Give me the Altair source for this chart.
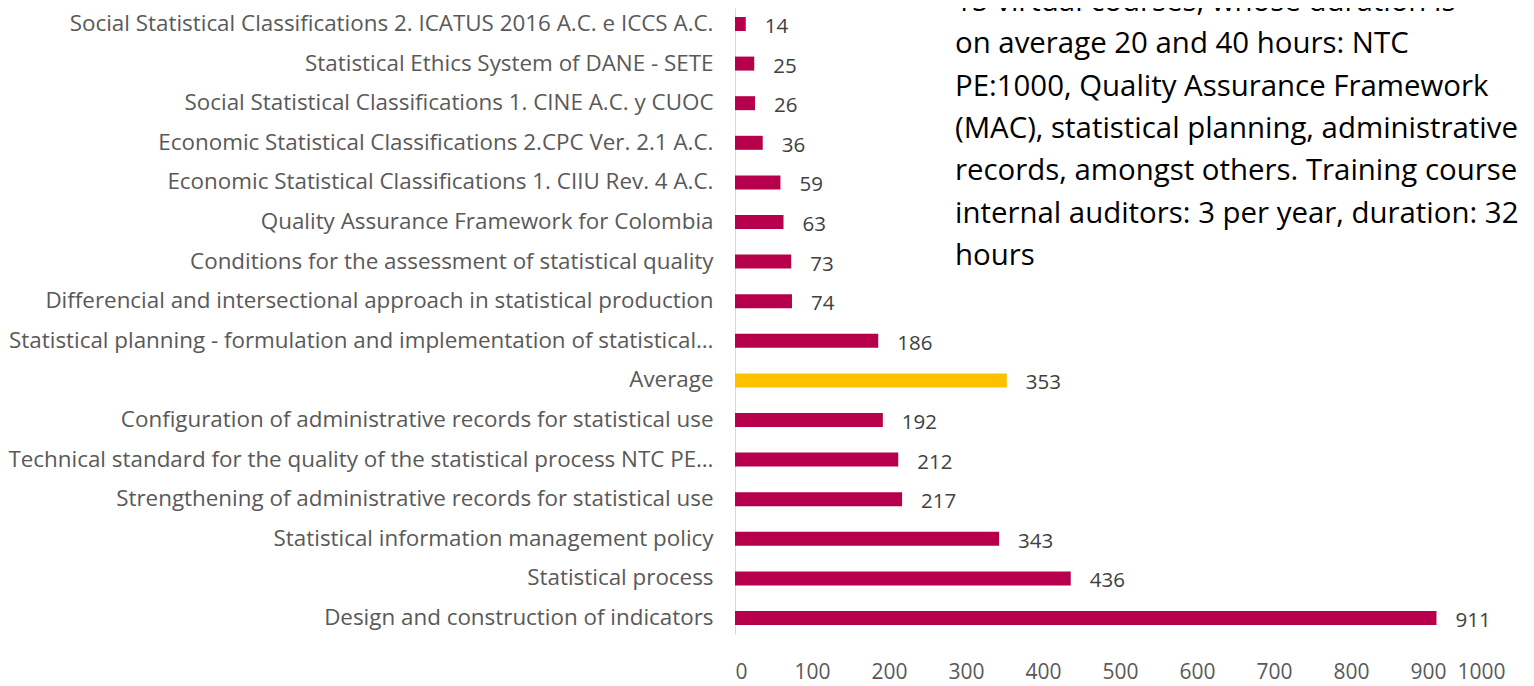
import altair as alt
import pandas as pd

categories = [
    "Social Statistical Classifications 2. ICATUS 2016 A.C. e  ICCS A.C.",
    "Statistical Ethics System of DANE - SETE",
    "Social Statistical Classifications 1.  CINE A.C. y CUOC",
    "Economic Statistical Classifications 2.CPC Ver. 2.1 A.C.",
    "Economic Statistical Classifications 1.  CIIU Rev. 4 A.C.",
    "Quality Assurance Framework for Colombia",
    "Conditions for the assessment of statistical quality",
    "Differencial and intersectional approach in statistical production\u00a0\u00a0",
    "Statistical planning - formulation and implementation of statistical\u2026",
    "Average",
    "Configuration of administrative records for statistical use",
    "Technical standard for the quality of the statistical process NTC PE\u2026",
    "Strengthening of administrative records for statistical use",
    "Statistical information management policy",
    "Statistical process",
    "Design and construction of indicators",
]
values = [14, 25, 26, 36, 59, 63, 73, 74, 186, 353, 192, 212, 217, 343, 436, 911]
kinds = ["course"] * 9 + ["average"] + ["course"] * 6
x_ticks = [0, 100, 200, 300, 400, 500, 600, 700, 800, 900, 1000]

note_lines = [
    "15 virtual courses, whose duration is",
    "on average 20 and 40 hours: NTC",
    "PE:1000, Quality Assurance Framework",
    "(MAC), statistical planning, administrative",
    "records, amongst others. Training course",
    "internal auditors: 3 per year, duration: 32",
    "hours",
]

df = pd.DataFrame({"cat": categories, "value": values, "kind": kinds})

FONT = "Open Sans"

y_enc = alt.Y(
    "cat:N",
    sort=categories,
    scale=alt.Scale(paddingInner=0.6465, paddingOuter=0.227),
    axis=alt.Axis(
        title=None,
        labelFontSize=22.4,
        labelColor="#595959",
        labelFont=FONT,
        labelPadding=22,
        labelLimit=1000,
        ticks=False,
        tickSize=0,
        domainColor="#D9D9D9",
        domainWidth=1,
        grid=False,
    ),
)

x_enc = alt.X(
    "value:Q",
    scale=alt.Scale(domain=[0, 1000], nice=False),
    axis=alt.Axis(
        title=None,
        values=x_ticks,
        format="d",
        labelFontSize=21,
        labelColor="#595959",
        labelFont=FONT,
        labelPadding=27,
        ticks=False,
        domain=False,
        grid=False,
    ),
)

bars = alt.Chart(df).mark_bar().encode(
    y=y_enc,
    x=x_enc,
    color=alt.Color(
        "kind:N",
        scale=alt.Scale(domain=["course", "average"], range=["#B7004B", "#FFC000"]),
        legend=None,
    ),
)

labels = alt.Chart(df).mark_text(
    align="left", baseline="middle", dx=19, dy=3, fontSize=20.5, font=FONT, color="#404040"
).encode(
    y=alt.Y("cat:N", sort=categories),
    x="value:Q",
    text="value:Q",
)

note = alt.Chart(pd.DataFrame({"t": ["\n".join(note_lines)]})).mark_text(
    align="left",
    baseline="alphabetic",
    fontSize=29.4,
    font=FONT,
    color="#000000",
    lineBreak="\n",
    lineHeight=42.3,
).encode(
    x=alt.value(220),
    y=alt.value(3),
    text="t:N",
)

chart = (
    alt.layer(bars, labels, note)
    .properties(
        width=770,
        height=626,
        autosize=alt.AutoSizeParams(type="none"),
        padding={"left": 727, "top": 0, "right": 21, "bottom": 52},
    )
    .configure_view(stroke=None)
)

chart.save("out.html", embed_options={"renderer": "svg", "actions": False})
